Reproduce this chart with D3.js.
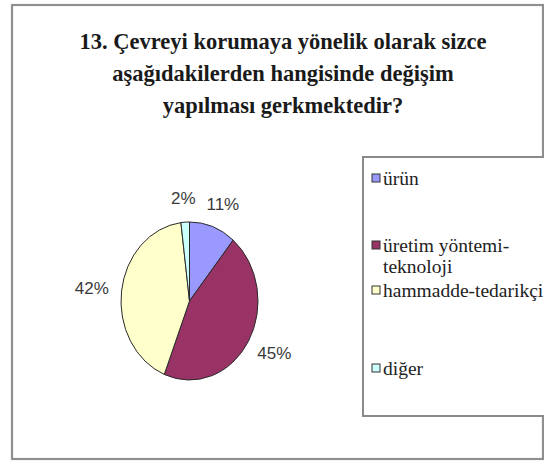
<!DOCTYPE html>
<html>
<head>
<meta charset="utf-8">
<script src="https://cdn.jsdelivr.net/npm/d3@7"></script>
<style>
  text.serif { font-family: "Liberation Serif", "Times New Roman", serif !important; }
  text.sans { font-family: "Liberation Sans", Arial, sans-serif !important; }
</style>
</head>
<body style="margin:0">
<svg id="chart" width="544" height="461"></svg>
<script>
// Survey question 13: which area should change to protect the environment
const titleLines = [
  "13. Çevreyi korumaya yönelik olarak sizce",
  "aşağıdakilerden hangisinde değişim",
  "yapılması gerkmektedir?"
];
const categories = ["ürün", "üretim yöntemi-teknoloji", "hammadde-tedarikçi", "diğer"];
const legendLines = [["ürün"], ["üretim yöntemi-", "teknoloji"], ["hammadde-tedarikçi"], ["diğer"]];
const values = [11, 45, 42, 2];
const colors = ["#9999FF", "#993366", "#FFFFCC", "#CCFFFF"];

const W = 544, H = 461;
const svg = d3.select("#chart");

// outer frame
svg.append("rect")
  .attr("x", 12).attr("y", 5)
  .attr("width", W - 13).attr("height", H - 7)
  .attr("fill", "#fff")
  .attr("stroke", "#8f8f8f").attr("stroke-width", 2.2);

// title
svg.append("g").selectAll("text")
  .data(titleLines)
  .join("text")
  .attr("class", "serif")
  .attr("font-family", "Liberation Serif")
  .attr("x", 283)
  .attr("y", (d, i) => 49 + i * 32)
  .attr("text-anchor", "middle")
  .attr("font-weight", "bold")
  .attr("font-size", 22.5)
  .attr("fill", "#1a1a1a")
  .text(d => d);

// pie, drawn as a circle then stretched into an ellipse
const cx = 189.5, cy = 301, ry = 79, rx = 68.5;
const pie = d3.pie().sort(null).value(d => d)(values);
const arc = d3.arc().innerRadius(0).outerRadius(ry);

const pieG = svg.append("g")
  .attr("transform", `translate(${cx},${cy}) scale(${rx / ry},1)`);
pieG.selectAll("path")
  .data(pie)
  .join("path")
  .attr("d", arc)
  .attr("fill", (d, i) => colors[i])
  .attr("stroke", "#2a2a2a")
  .attr("stroke-width", 1)
  .attr("vector-effect", "non-scaling-stroke");

// percentage labels on a wider ellipse around the pie
const labelRx = 98.5, labelRy = 103;
const mid = d => (d.startAngle + d.endAngle) / 2;
svg.append("g").selectAll("text")
  .data(pie)
  .join("text")
  .attr("class", "sans")
  .attr("font-family", "Liberation Sans")
  .attr("x", d => cx + labelRx * Math.sin(mid(d)))
  .attr("y", d => cy - labelRy * Math.cos(mid(d)))
  .attr("text-anchor", "middle")
  .attr("dominant-baseline", "central")
  .attr("font-size", 17)
  .attr("fill", "#3a3a3a")
  .text(d => d3.format(".0f")(d.value) + "%");

// legend
const legend = svg.append("g");
legend.append("rect")
  .attr("x", 363).attr("y", 157)
  .attr("width", 200).attr("height", 259)
  .attr("fill", "#fff")
  .attr("stroke", "#8a8a8a").attr("stroke-width", 2);

// each entry sits at the centre of its first text line
const entryY = [178, 245, 290, 368];
const lineH = 21;
const item = legend.selectAll("g.item")
  .data(categories)
  .join("g")
  .attr("class", "item")
  .attr("transform", (d, i) => `translate(372, ${entryY[i]})`);

item.append("rect")
  .attr("x", 0).attr("y", -4)
  .attr("width", 8).attr("height", 8)
  .attr("fill", (d, i) => colors[i])
  .attr("stroke", "#333").attr("stroke-width", 1);

item.append("text")
  .attr("class", "serif")
  .attr("font-family", "Liberation Serif")
  .attr("font-size", 19.5)
  .attr("fill", "#222")
  .selectAll("tspan")
  .data((d, i) => legendLines[i])
  .join("tspan")
  .attr("x", 11)
  .attr("y", (d, j) => j * lineH)
  .attr("dy", "0.35em")
  .text(d => d);
</script>
</body>
</html>
